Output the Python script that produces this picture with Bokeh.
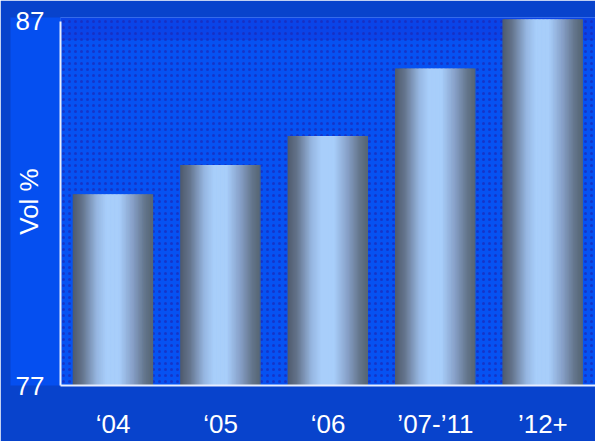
from bokeh.plotting import figure
from bokeh.models import Range1d, FixedTicker, ColumnDataSource, BoxAnnotation
from bokeh.embed import file_html
from bokeh.resources import INLINE

# ---- data ----
categories = ["\u201804", "\u201805", "\u201806", "\u201907-\u201911", "\u201912+"]
values = [82.25, 83.05, 83.85, 85.7, 87.05]
y_ticks = [77, 87]
y_min, y_max = 77, 87

# ---- styles ----
BAR_W = 0.745
N_STRIPS = 60
stops = [
    (0.00, (78, 90, 108)),
    (0.12, (100, 116, 140)),
    (0.30, (150, 182, 225)),
    (0.42, (168, 206, 250)),
    (0.58, (168, 206, 250)),
    (0.75, (135, 160, 200)),
    (0.90, (100, 118, 140)),
    (1.00, (85, 100, 115)),
]


def grad(t):
    for (t0, c0), (t1, c1) in zip(stops[:-1], stops[1:]):
        if t0 <= t <= t1:
            f = (t - t0) / (t1 - t0) if t1 > t0 else 0
            c = [round(a + (b - a) * f) for a, b in zip(c0, c1)]
            return "#%02x%02x%02x" % tuple(c)
    return "#%02x%02x%02x" % stops[-1][1]


xs, tops, ws, cols = [], [], [], []
sw = BAR_W / N_STRIPS
for i, v in enumerate(values):
    for k in range(N_STRIPS):
        t = (k + 0.5) / N_STRIPS
        xs.append(i - BAR_W / 2 + (k + 0.5) * sw)
        tops.append(v)
        ws.append(sw * 1.6 if k < N_STRIPS - 1 else sw)
        cols.append(grad(t))
src = ColumnDataSource(dict(x=xs, top=tops, w=ws, c=cols))

p = figure(width=595, height=441, output_backend="svg", toolbar_location=None,
           x_range=Range1d(-0.49, 4.49), y_range=Range1d(y_min, y_max + 0.1),
           min_border_left=60, min_border_right=0, min_border_top=17,
           min_border_bottom=52)

p.background_fill_color = "#0652f2"
p.border_fill_color = "#0843cc"
p.outline_line_color = None
p.xgrid.visible = False
p.ygrid.visible = False

# background texture
p.add_layout(BoxAnnotation(bottom=y_max - 0.52, fill_color="#0a44e8", fill_alpha=1,
                           line_color=None, level="underlay"))
p.add_layout(BoxAnnotation(fill_alpha=0, line_color=None, hatch_pattern="dot",
                           hatch_scale=6, hatch_color="#1a28b8", hatch_alpha=0.7,
                           hatch_weight=1.5, level="underlay"))

p.vbar(x="x", top="top", bottom=y_min, width="w", fill_color="c",
       line_color=None, source=src)

FONT = "Liberation Sans"

# y axis
ya = p.yaxis[0]
ya.ticker = FixedTicker(ticks=y_ticks)
ya.bounds = (y_min, y_max)
ya.axis_line_color = "#e8eeff"
ya.axis_line_width = 2
ya.major_tick_line_color = None
ya.minor_tick_line_color = None
ya.major_label_text_color = "white"
ya.major_label_text_font = FONT
ya.major_label_text_font_size = "26px"
ya.major_label_standoff = 10
ya.axis_label = "Vol %"
ya.axis_label_text_color = "white"
ya.axis_label_text_font = FONT
ya.axis_label_text_font_size = "26px"
ya.axis_label_text_font_style = "normal"
ya.axis_label_standoff = -31
try:
    ya.background_fill_color = "#054ff0"
except Exception:
    pass

# x axis
xa = p.xaxis[0]
xa.ticker = FixedTicker(ticks=list(range(len(categories))))
xa.major_label_overrides = {i: c for i, c in enumerate(categories)}
xa.axis_line_color = "#e8eeff"
xa.axis_line_width = 2
xa.major_tick_line_color = None
xa.minor_tick_line_color = None
xa.major_label_text_color = "white"
xa.major_label_text_font = FONT
xa.major_label_text_font_size = "26px"
xa.major_label_standoff = 17

open("out.html", "w").write(file_html(p, INLINE))
